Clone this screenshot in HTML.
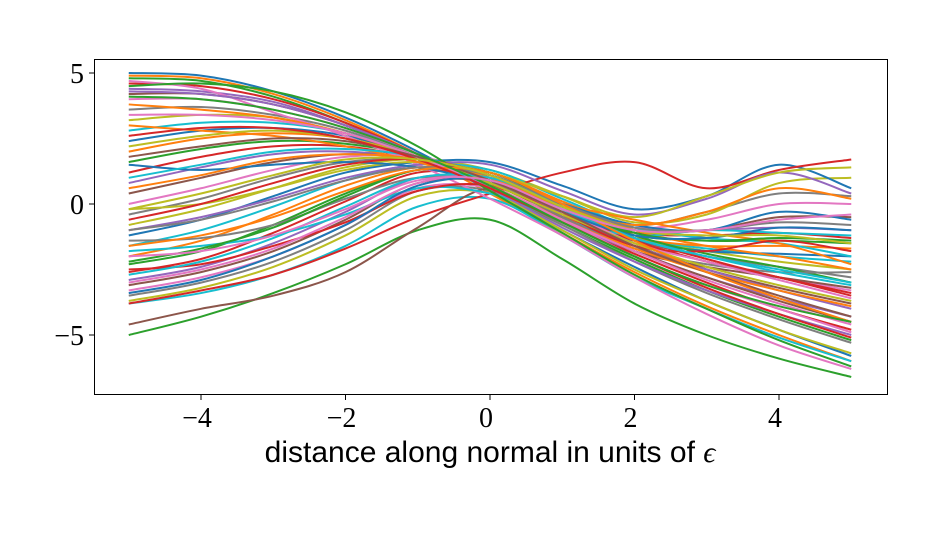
<!DOCTYPE html>
<html><head><meta charset="utf-8"><style>
html,body{margin:0;padding:0;background:#fff;}
svg text{font-family:"Liberation Serif",serif;}
</style></head><body>
<svg id="chart" width="949" height="536" xmlns="http://www.w3.org/2000/svg">
<rect width="949" height="536" fill="#fff"/>
<g id="lines"></g>
<rect x="94.5" y="59.5" width="793" height="335" fill="none" stroke="#000" stroke-width="1"/>
<g id="axes"></g>
<text x="490" y="462" text-anchor="middle" font-size="30" style="font-family:'Liberation Sans',sans-serif">distance along normal in units of <tspan style="font-family:'Liberation Serif',serif;font-style:italic">ϵ</tspan></text>
</svg>
<script>
const xSamples=[-5,-4,-3,-2,-1,0,1,2,3,4,5];
const xTicks=[-4,-2,0,2,4];
const yTicks=[-5,0,5];
const s01=[5.0,4.9,4.3,3.3,2.0,0.5,-1.0,-2.4,-3.7,-4.8,-5.8];
const s02=[4.9,4.8,4.2,3.2,1.9,0.4,-1.1,-2.6,-3.9,-5.0,-6.0];
const s03=[4.8,4.7,4.1,3.1,1.9,0.6,-0.8,-2.1,-3.3,-4.3,-5.2];
const s04=[4.6,4.5,4.0,3.1,1.9,0.6,-0.7,-1.9,-3.0,-4.0,-4.8];
const s05=[4.4,4.3,3.9,3.0,1.9,0.6,-0.7,-1.8,-2.8,-3.6,-4.3];
const s06=[4.2,4.2,3.8,3.0,1.9,0.6,-0.6,-1.6,-2.5,-3.2,-3.8];
const s07=[4.0,4.0,3.6,2.9,1.8,0.6,-0.5,-1.5,-2.2,-2.8,-3.3];
const s08=[3.6,3.7,3.4,2.8,1.8,0.6,-0.5,-1.4,-2.0,-2.4,-2.8];
const s09=[3.2,3.4,3.3,2.7,1.8,0.6,-0.5,-1.3,-1.8,-2.2,-2.5];
const s10=[2.8,3.1,3.1,2.7,1.8,0.7,-0.5,-1.3,-1.7,-2.0,-2.2];
const s11=[2.4,2.8,2.9,2.6,1.8,0.6,-0.6,-1.4,-1.8,-1.9,-2.0];
const s12=[2.0,2.5,2.7,2.5,1.8,0.7,-0.5,-1.3,-1.6,-1.6,-1.7];
const s13=[1.6,2.1,2.4,2.3,1.8,0.8,-0.4,-1.2,-1.4,-1.4,-1.5];
const s14=[1.2,1.8,2.2,2.2,1.7,0.8,-0.4,-1.1,-1.2,-1.1,-1.3];
const s15=[0.8,1.4,1.9,2.0,1.7,0.9,-0.3,-1.0,-1.0,-0.9,-1.0];
const s16=[0.4,1.0,1.6,1.9,1.7,1.0,-0.2,-1.0,-1.0,-0.5,-0.5];
const s17=[0.0,0.6,1.3,1.8,1.8,1.1,-0.1,-0.9,-0.6,0.0,0.0];
const s18=[-0.4,0.2,1.0,1.6,1.7,1.2,0.1,-0.8,-0.3,0.4,0.3];
const s19=[-0.8,-0.2,0.6,1.4,1.7,1.3,0.3,-0.7,-0.4,0.8,1.0];
const s20=[-1.2,-0.6,0.3,1.2,1.6,1.6,0.7,-0.2,0.3,1.5,0.6];
const s21=[-1.6,-1.0,-0.1,0.9,1.5,1.3,0.2,-0.9,-1.3,-1.5,-2.0];
const s22=[-2.0,-1.4,-0.4,0.7,1.4,1.2,0.1,-1.0,-1.6,-2.0,-2.5];
const s23=[-2.3,-1.8,-0.8,0.4,1.3,1.1,-0.1,-1.2,-1.9,-2.4,-3.0];
const s24=[-2.6,-2.1,-1.1,0.1,1.2,1.0,-0.3,-1.4,-2.2,-2.8,-3.5];
const s25=[-2.9,-2.4,-1.5,-0.3,1.0,0.9,-0.4,-1.6,-2.5,-3.3,-4.0];
const s26=[-3.1,-2.6,-1.8,-0.6,0.8,0.8,-0.5,-1.8,-2.8,-3.7,-4.5];
const s27=[-3.3,-2.8,-2.0,-0.8,0.6,0.6,-0.6,-2.0,-3.1,-4.0,-4.9];
const s28=[-3.5,-3.0,-2.2,-1.0,0.5,0.5,-0.8,-2.2,-3.4,-4.4,-5.3];
const s29=[-3.7,-3.2,-2.4,-1.2,0.3,0.4,-1.0,-2.5,-3.7,-4.8,-5.7];
const s30=[-3.8,-3.4,-2.7,-1.6,-0.1,0.2,-1.2,-2.8,-4.0,-5.1,-6.0];
const s31=[-5.0,-4.3,-3.4,-2.3,-1.0,-0.6,-2.1,-3.8,-5.0,-5.9,-6.6];
const s32=[-4.6,-4.0,-3.5,-2.6,-0.9,0.6,-0.5,-1.8,-2.4,-2.8,-3.2];
const s33=[-3.8,-3.3,-2.7,-1.7,-0.5,0.4,1.2,1.6,0.6,1.3,1.7];
const s34=[4.7,4.4,3.5,2.6,1.5,0.2,-1.2,-2.8,-4.2,-5.4,-6.3];
const s35=[-1.0,-0.5,0.2,1.0,1.5,1.5,0.5,-0.4,0.2,1.2,0.4];
const s36=[-0.2,0.0,0.6,1.3,1.6,1.2,0.3,-0.5,0.3,1.2,1.4];
const s37=[-1.8,-1.6,-1.2,-0.4,0.6,0.4,-0.6,-1.2,-1.0,-1.1,-1.2];
const s38=[3.0,2.8,2.6,2.2,1.6,0.8,0.0,-0.6,-1.1,-1.5,-2.3];
const s39=[1.5,1.3,1.5,1.6,1.4,0.8,0.0,-0.8,-1.0,-0.3,-0.6];
const s40=[-2.5,-2.3,-1.6,-0.7,0.5,0.7,-0.4,-1.6,-1.8,-1.4,-1.8];
const s41=[4.5,4.6,4.3,3.5,2.2,0.5,-1.1,-2.7,-4.0,-5.2,-6.2];
const s42=[-1.4,-1.3,-0.8,0.2,1.0,0.8,-0.5,-1.7,-2.3,-2.6,-2.6];
const s43=[3.8,3.6,3.3,2.7,1.8,0.7,-0.6,-1.7,-2.6,-3.3,-3.9];
const s44=[-3.0,-2.5,-1.7,-0.5,0.8,1.0,-0.2,-1.5,-2.2,-2.9,-3.6];
const s45=[1.0,1.5,2.0,2.1,1.8,1.0,-0.2,-1.3,-2.0,-2.6,-3.1];
const s46=[-0.6,0.0,0.8,1.5,1.7,1.1,-0.1,-1.3,-2.1,-2.8,-3.4];
const s47=[2.2,2.6,2.8,2.5,1.8,0.8,-0.4,-1.5,-2.4,-3.1,-3.7];
const s48=[-2.2,-1.7,-0.9,0.3,1.3,1.2,0.0,-1.1,-1.4,-1.3,-1.4];
const s49=[4.3,4.2,3.8,3.0,1.9,0.6,-0.9,-2.2,-3.3,-4.2,-5.0];
const s50=[-3.4,-2.9,-2.0,-0.8,0.7,0.9,-0.3,-1.2,-1.3,-0.9,-1.0];
const s51=[0.6,1.1,1.7,1.9,1.7,1.0,-0.1,-0.8,-0.3,0.6,0.2];
const s52=[-1.0,-0.6,0.1,0.9,1.4,1.1,0.0,-0.9,-1.0,-0.7,-0.8];
const s53=[3.4,3.4,3.2,2.7,1.8,0.7,-0.6,-1.8,-2.9,-3.8,-4.6];
const s54=[-2.7,-2.2,-1.3,-0.1,1.0,1.0,-0.1,-1.3,-2.0,-2.5,-3.0];
const s55=[1.8,2.2,2.5,2.4,1.8,0.9,-0.3,-1.6,-2.6,-3.5,-4.3];
const s56=[-1.6,-1.2,-0.5,0.5,1.3,1.2,0.0,-1.4,-2.6,-3.6,-4.5];
const s57=[2.6,2.9,2.9,2.5,1.7,0.6,-0.7,-2.0,-3.2,-4.2,-5.1];
const s58=[-0.2,0.4,1.1,1.7,1.7,1.1,-0.1,-1.0,-1.2,-1.2,-1.5];
const s59=[4.1,4.0,3.6,2.9,1.9,0.7,-0.7,-2.0,-3.1,-3.9,-4.5];
const s60=[-2.0,-1.8,-1.2,-0.2,0.9,0.9,-0.2,-1.0,-1.0,-0.6,-0.4];
const series=[s01,s02,s03,s04,s05,s06,s07,s08,s09,s10,s11,s12,s13,s14,s15,s16,s17,s18,s19,s20,s21,s22,s23,s24,s25,s26,s27,s28,s29,s30,s31,s32,s33,s34,s35,s36,s37,s38,s39,s40,s41,s42,s43,s44,s45,s46,s47,s48,s49,s50,s51,s52,s53,s54,s55,s56,s57,s58,s59,s60];
const palette=['#1f77b4','#ff7f0e','#2ca02c','#d62728','#9467bd','#8c564b','#e377c2','#7f7f7f','#bcbd22','#17becf'];
const seriesColors=[0,1,2,3,4,5,6,7,8,9,0,1,2,3,4,5,6,7,8,0,9,1,2,3,4,5,6,7,8,9,2,5,3,6,4,8,9,1,0,3,2,7,1,6,9,3,8,2,4,0,1,7,6,9,5,1,3,8,2,6];

const NS='http://www.w3.org/2000/svg';
const xs=v=>490+v*72.25;
const ys=v=>204-v*26.2;

function pathFor(vals){
  const p=xSamples.map((x,i)=>[xs(x),ys(vals[i])]);
  let d='M'+p[0][0].toFixed(2)+','+p[0][1].toFixed(2);
  for(let i=0;i<p.length-1;i++){
    const p0=p[Math.max(0,i-1)],p1=p[i],p2=p[i+1],p3=p[Math.min(p.length-1,i+2)];
    const c1=[p1[0]+(p2[0]-p0[0])/6,p1[1]+(p2[1]-p0[1])/6];
    const c2=[p2[0]-(p3[0]-p1[0])/6,p2[1]-(p3[1]-p1[1])/6];
    d+=' C'+c1[0].toFixed(2)+','+c1[1].toFixed(2)+' '+c2[0].toFixed(2)+','+c2[1].toFixed(2)+' '+p2[0].toFixed(2)+','+p2[1].toFixed(2);
  }
  return d;
}
const g=document.getElementById('lines');
series.forEach((vals,i)=>{
  const el=document.createElementNS(NS,'path');
  el.setAttribute('d',pathFor(vals));
  el.setAttribute('fill','none');
  el.setAttribute('stroke',palette[seriesColors[i]]);
  el.setAttribute('stroke-width','2');
  
  
  g.appendChild(el);
});
const ax=document.getElementById('axes');
function fmt(v){return v<0?'\u2212'+Math.abs(v):String(v);}
xTicks.forEach(v=>{
  const l=document.createElementNS(NS,'line');
  l.setAttribute('x1',xs(v));l.setAttribute('x2',xs(v));
  l.setAttribute('y1',395);l.setAttribute('y2',400);
  l.setAttribute('stroke','#000');
  
  
  ax.appendChild(l);
  const t=document.createElementNS(NS,'text');
  t.setAttribute('x',xs(v)-4);t.setAttribute('y',427);
  t.setAttribute('text-anchor','middle');t.setAttribute('font-size','28');
  t.textContent=fmt(v);
  
  
  ax.appendChild(t);
});
yTicks.forEach(v=>{
  const l=document.createElementNS(NS,'line');
  l.setAttribute('x1',89);l.setAttribute('x2',94);
  l.setAttribute('y1',ys(v));l.setAttribute('y2',ys(v));
  l.setAttribute('stroke','#000');
  
  
  ax.appendChild(l);
  const t=document.createElementNS(NS,'text');
  t.setAttribute('x',84);t.setAttribute('y',ys(v)+10);
  t.setAttribute('text-anchor','end');t.setAttribute('font-size','28');
  t.textContent=fmt(v);
  
  
  ax.appendChild(t);
});
</script>
</body></html>
